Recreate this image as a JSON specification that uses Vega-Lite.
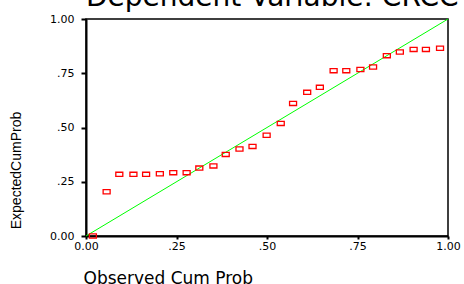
{
  "$schema": "https://vega.github.io/schema/vega-lite/v6.json",
  "width": 362,
  "height": 217,
  "autosize": "none",
  "padding": {"left": 86, "top": 19, "right": 16, "bottom": 48},
  "background": "white",
  "title": {
    "text": "Dependent Variable: CRCC",
    "anchor": "start",
    "frame": "group",
    "offset": 0,
    "dy": 21,
    "baseline": "alphabetic",
    "font": "DejaVu Sans",
    "fontSize": 28,
    "fontWeight": "normal",
    "color": "black"
  },
  "config": {
    "view": {"stroke": "black", "strokeWidth": 1.5}
  },
  "encoding": {
    "x": {
      "field": "x",
      "type": "quantitative",
      "scale": {"domain": [0, 1], "nice": false, "zero": false},
      "axis": {
        "title": "Observed Cum Prob",
        "values": [0, 0.25, 0.5, 0.75, 1],
        "labelExpr": "datum.value == 0 || datum.value == 1 ? format(datum.value, '.2f') : substring(format(datum.value, '.2f'), 1)",
        "grid": false,
        "domainColor": "black",
        "domainWidth": 2,
        "tickColor": "black",
        "tickWidth": 2,
        "tickSize": 3,
        "labelPadding": 1,
        "labelFont": "DejaVu Sans",
        "labelFontSize": 11,
        "labelColor": "black",
        "labelFlush": false,
        "titleFont": "DejaVu Sans",
        "titleFontSize": 17,
        "titleFontWeight": "normal",
        "titleColor": "black",
        "titleAnchor": "start",
        "titleAlign": "left",
        "titleX": -3,
        "titleY": 47,
        "titleBaseline": "alphabetic"
      }
    },
    "y": {
      "field": "y",
      "type": "quantitative",
      "scale": {"domain": [0, 1], "nice": false, "zero": false},
      "axis": {
        "title": "ExpectedCumProb",
        "values": [0, 0.25, 0.5, 0.75, 1],
        "labelExpr": "datum.value == 0 || datum.value == 1 ? format(datum.value, '.2f') : substring(format(datum.value, '.2f'), 1)",
        "grid": false,
        "domainColor": "black",
        "domainWidth": 2,
        "tickColor": "black",
        "tickWidth": 2,
        "tickSize": 5,
        "labelPadding": 7,
        "labelFont": "DejaVu Sans",
        "labelFontSize": 11,
        "labelColor": "black",
        "labelFlush": false,
        "titleFont": "Liberation Sans",
        "titleFontSize": 14,
        "titleFontWeight": "normal",
        "titleColor": "black",
        "titleAngle": -90,
        "titleAlign": "center",
        "titleBaseline": "middle",
        "titleX": -70,
        "titleY": 151
      }
    }
  },
  "layer": [
    {
      "data": {"values": [{"x": 0, "y": 0}, {"x": 1, "y": 1}]},
      "mark": {"type": "line", "color": "#00ff00", "strokeWidth": 1}
    },
    {
      "data": {
        "values": [
          {"x": 0.019, "y": 0.000},
          {"x": 0.057, "y": 0.204},
          {"x": 0.092, "y": 0.284},
          {"x": 0.131, "y": 0.284},
          {"x": 0.166, "y": 0.284},
          {"x": 0.204, "y": 0.287},
          {"x": 0.241, "y": 0.292},
          {"x": 0.278, "y": 0.292},
          {"x": 0.313, "y": 0.313},
          {"x": 0.352, "y": 0.323},
          {"x": 0.386, "y": 0.376},
          {"x": 0.424, "y": 0.401},
          {"x": 0.460, "y": 0.413},
          {"x": 0.499, "y": 0.464},
          {"x": 0.538, "y": 0.519},
          {"x": 0.572, "y": 0.611},
          {"x": 0.611, "y": 0.662},
          {"x": 0.646, "y": 0.685},
          {"x": 0.684, "y": 0.762},
          {"x": 0.719, "y": 0.762},
          {"x": 0.758, "y": 0.767},
          {"x": 0.793, "y": 0.779},
          {"x": 0.831, "y": 0.831},
          {"x": 0.867, "y": 0.848},
          {"x": 0.905, "y": 0.860},
          {"x": 0.939, "y": 0.860},
          {"x": 0.978, "y": 0.865}
        ]
      },
      "mark": {
        "type": "point",
        "shape": "M-1,-0.6H1V0.6H-1Z",
        "size": 49,
        "filled": false,
        "color": "#ff0000",
        "strokeWidth": 1.3,
        "opacity": 1
      }
    }
  ]
}
